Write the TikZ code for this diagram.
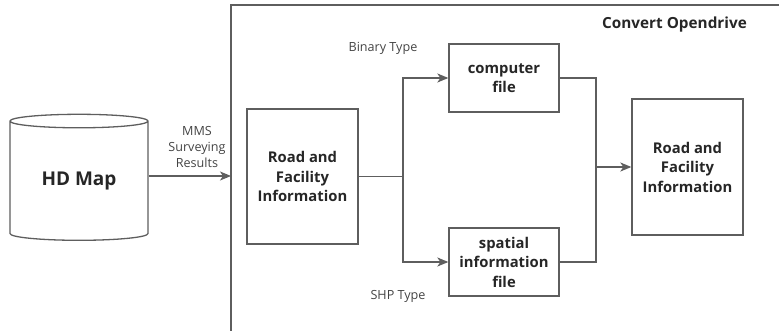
\documentclass[tikz,border=0pt]{standalone}
\usepackage{fontspec}
\setmainfont{Open Sans}
\usetikzlibrary{arrows.meta,shapes.geometric}
\definecolor{linegray}{HTML}{5E5E5E}
\definecolor{txtdark}{HTML}{262626}
\definecolor{txtlabel}{HTML}{444444}
\begin{document}
\begin{tikzpicture}[x=1pt,y=-1pt,
  conn/.style={draw=linegray,line width=1.3pt},
  arr/.style={conn,-{Stealth[length=11pt,width=9pt,inset=3pt]}},
  procbox/.style={draw=linegray,line width=1.3pt,fill=white,inner sep=0pt,
    text=txtdark,font=\fontsize{14.8}{19.5}\selectfont\bfseries,align=center},
  lbl/.style={text=txtlabel,font=\fontsize{12.6}{16}\selectfont,align=center,inner sep=0pt}]
\useasboundingbox (0,0) rectangle (779,331);
% outer frame (extends past the page)
\draw[linegray,line width=1.3pt] (231,340) -- (231,5) -- (790,5);
\node[anchor=east,text=txtdark,font=\fontsize{15.3}{18}\selectfont\bfseries,inner sep=0pt] (title) at (747,25) {Convert Opendrive};
% database cylinder
\node[cylinder,shape border rotate=90,draw=linegray,line width=1.3pt,
  minimum width=138pt,minimum height=126pt,aspect=0.18,inner sep=0pt,
  text=txtdark,font=\fontsize{19}{24}\selectfont\bfseries] (hd) at (79,181) {HD Map};
% processing boxes
\node[procbox,minimum width=111pt,minimum height=135pt] (rfi) at (302.5,176.5) {Road and\\Facility\\Information};
\node[procbox,minimum width=110pt,minimum height=68pt] (cf) at (504,78) {computer\\file};
\node[procbox,minimum width=110pt,minimum height=68pt] (sif) at (504,262) {spatial\\information\\file};
\node[procbox,minimum width=111pt,minimum height=136pt] (rfo) at (687.5,167) {Road and\\Facility\\Information};
% junction points
\coordinate (split) at (403,176.5);
\coordinate (merge) at (596,167);
\coordinate (frame) at (231,176);
% connectors
\draw[arr] (hd.east |- frame) -- (frame);
\node[lbl] (mms) at (197,147) {MMS\\Surveying\\Results};
\draw[conn] (rfi.east) -- (split);
\draw[arr] (split) |- (cf.west);
\draw[arr] (split) |- (sif.west);
\draw[conn] (cf.east) -| (merge);
\draw[conn] (sif.east) -| (merge);
\draw[arr] (merge) -- (rfo.west |- merge);
\node[lbl] (bin) at (383,48) {Binary Type};
\node[lbl] (shp) at (398,296) {SHP Type};
\end{tikzpicture}
\end{document}
